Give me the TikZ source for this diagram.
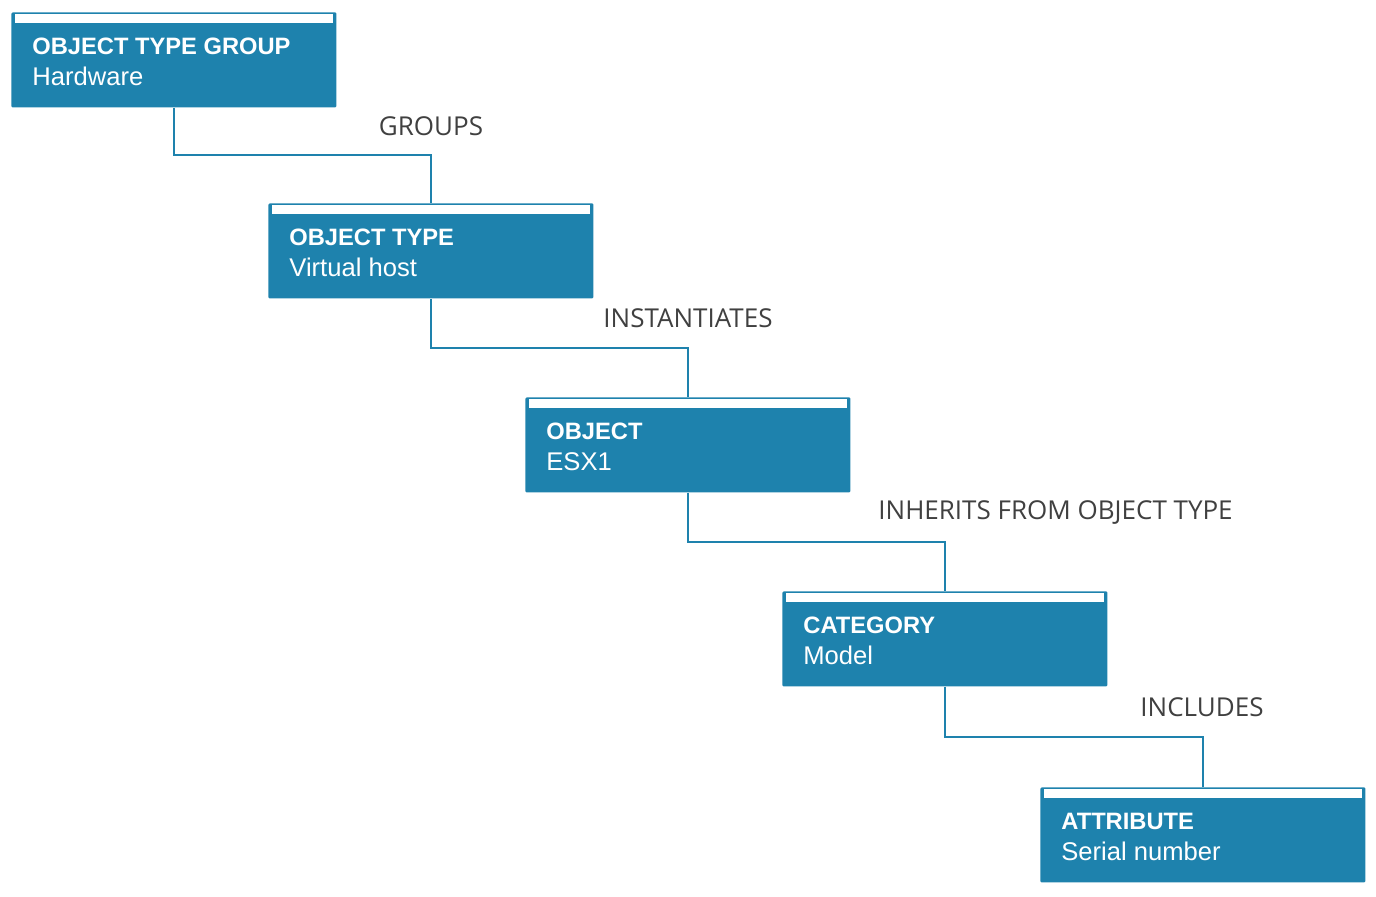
\documentclass[tikz,border=0pt]{standalone}
\usepackage{fontspec}
\setmainfont{Liberation Sans}
\newfontfamily\relfont{Open Sans}
\usetikzlibrary{calc}
\definecolor{boxblue}{HTML}{1E82AD}
\definecolor{relgray}{HTML}{404040}
\tikzset{
  objbox/.style={fill=boxblue,rounded corners=0.6pt,minimum width=162.5pt,minimum height=47.5pt,anchor=north west,inner sep=0pt},
  boxtitle/.style={anchor=base west,inner sep=0pt,text=white,font=\bfseries\fontsize{11.85}{14}\selectfont},
  boxvalue/.style={anchor=base west,inner sep=0pt,text=white,font=\fontsize{12.8}{14}\selectfont},
  relname/.style={anchor=base,inner sep=0pt,text=relgray,font=\relfont\fontsize{13}{15}\selectfont},
  link/.style={draw=boxblue,line width=1pt}
}
\begin{document}
\begin{tikzpicture}[x=0.5pt,y=-0.5pt]
\useasboundingbox (0,0) rectangle (1376,896);
% boxes
\foreach \n/\x/\y/\ttl/\val in {1/11/12/OBJECT TYPE GROUP/Hardware,2/268/203/OBJECT TYPE/Virtual host,
  3/525/397/OBJECT/ESX1,4/782/591/CATEGORY/Model,5/1040/787/ATTRIBUTE/Serial number}{
  \node[objbox] (b\n) at (\x,\y) {};
  \fill[white] ($(b\n.north west)+(1.75pt,-1pt)$) rectangle ($(b\n.north east)+(-1.75pt,-5.25pt)$);
  \node[boxtitle] (t\n) at ($(b\n.north west)+(10.5pt,-21pt)$) {\ttl};
  \node[boxvalue] (v\n) at ($(b\n.north west)+(10.5pt,-36.5pt)$) {\val};
}
% relations
\draw[link] (b1.south) |- ($(b1.south)!.5!(b2.north)$) -| (b2.north);
\draw[link] (b2.south) |- ($(b2.south)!.5!(b3.north)$) -| (b3.north);
\draw[link] (b3.south) |- ($(b3.south)!.5!(b4.north)$) -| (b4.north);
\draw[link] (b4.south) |- ($(b4.south)!.5!(b5.north)$) -| (b5.north);
\node[relname] (lgroups) at (431,135) {GROUPS};
\node[relname] (linst) at (688,327) {INSTANTIATES};
\node[relname,anchor=base west] (linherit) at (878,519) {INHERITS FROM OBJECT TYPE};
\node[relname] (lincl) at (1202,716) {INCLUDES};
\end{tikzpicture}
\end{document}
